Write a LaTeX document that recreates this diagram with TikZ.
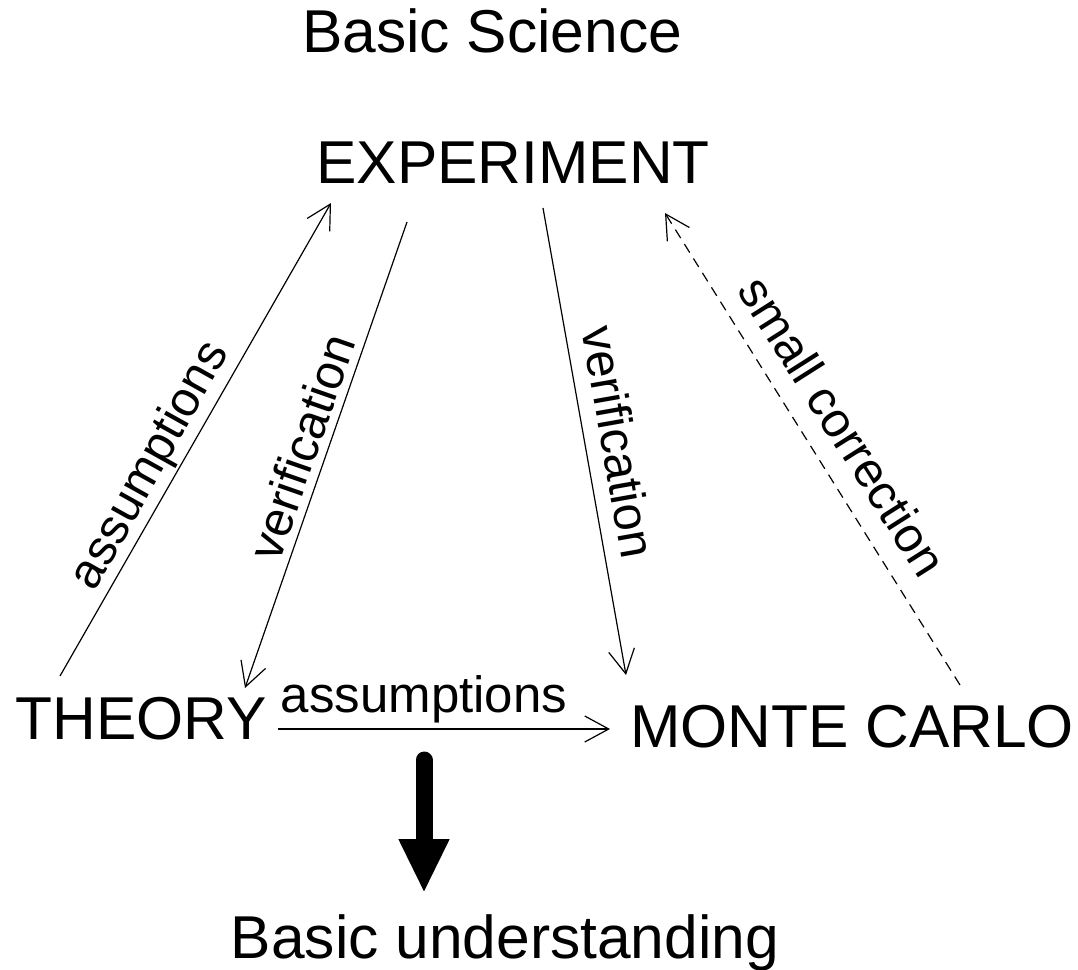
\documentclass[tikz,border=0pt]{standalone}
\usepackage{fontspec}
\setmainfont{Liberation Sans}
\usetikzlibrary{arrows.meta,calc}
\tikzset{
  big/.style={font=\fontsize{60.5}{72}\selectfont, inner sep=0pt, anchor=base},
  lbl/.style={font=\fontsize{51}{60}\selectfont, inner sep=0pt},
  rlbl/.style={font=\fontsize{49}{58}\selectfont, inner sep=0pt},
  conn/.style={line width=1.2pt, -{Straight Barb[length=24pt,width=26pt,line width=1.2pt]}},
  corr/.style={conn, dash pattern=on 10pt off 7pt},
  result/.style={line width=17pt, line cap=round, -{Triangle[length=54pt,width=47pt]}}
}
\begin{document}
\begin{tikzpicture}[x=1pt,y=-1pt]
\useasboundingbox (0,0) rectangle (1078,969);
\node[big] (bs) at (492,52) {Basic Science};
\node[big] (exp) at (513,183) {EXPERIMENT};
\node[big] (th) at (141,739) {THEORY};
\node[big] (mc) at (852,747) {MONTE CARLO};
\node[big] (bu) at (505,958) {Basic understanding};

% connectors
\draw[conn] ($(th.base)+(-81,-63)$) -- ($(exp.base)+(-182,20)$);
\draw[conn] ($(exp.base)+(-106,39)$) -- ($(th.base)+(104,-51)$);
\draw[conn] ($(exp.base)+(30,25)$) -- ($(mc.base)+(-226,-72)$);
\draw[corr] ($(mc.base)+(108,-62)$) -- ($(exp.base)+(152,30)$);
\draw[conn] ($(th.base)+(137,-10)$) -- ($(mc.base)+(-242,-18)$);
\draw[result] ($(th.base)+(283,21)$) -- ($(bu.base)+(-81,-65)$);

% labels
\node[rlbl, rotate=60.8] (l1) at (151,466) {assumptions};
\node[rlbl, rotate=70.8] (l2) at (301,447) {verification};
\node[rlbl, rotate=-80] (l3) at (619,442) {verification};
\node[rlbl, rotate=-57.6] (l4) at (843,426) {small correction};
\node[lbl, anchor=base] (l5) at (424,712) {assumptions};
\end{tikzpicture}
\end{document}
